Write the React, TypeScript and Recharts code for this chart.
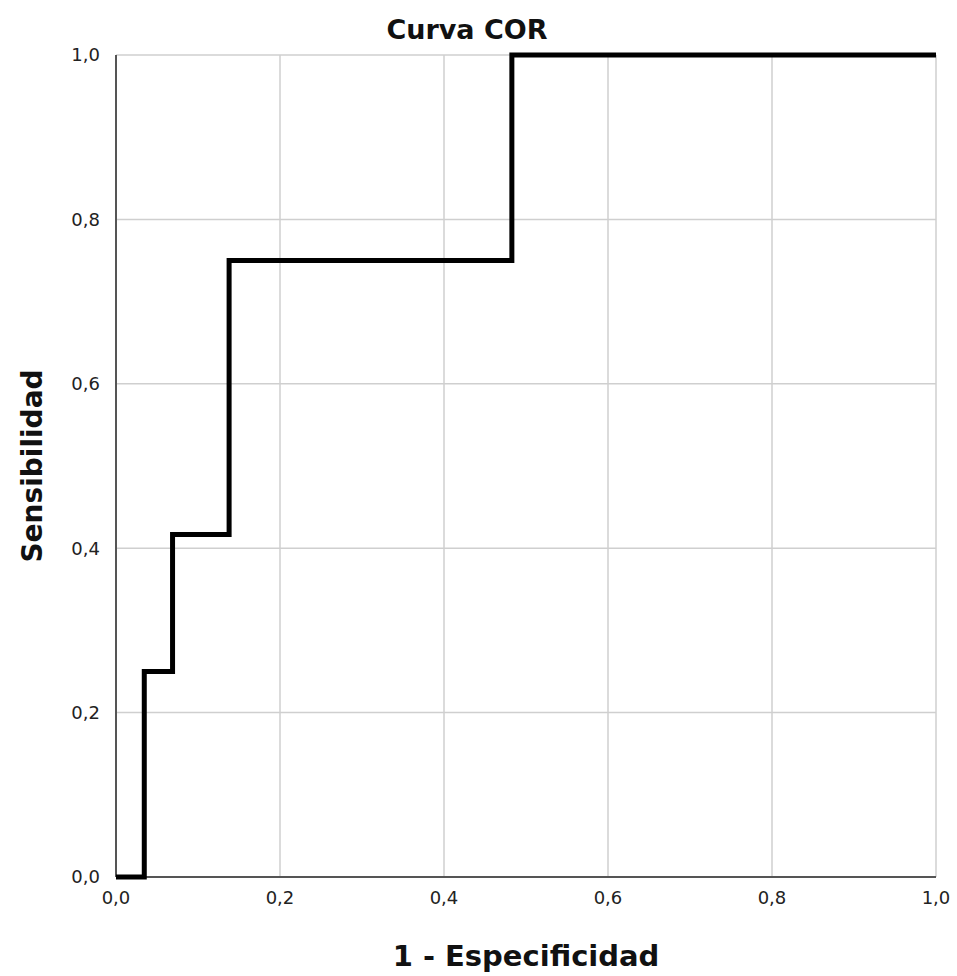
import { LineChart, Line, XAxis, YAxis, CartesianGrid, ReferenceLine } from "recharts";

// ROC points (1 - especificidad, sensibilidad)
const fpr = [0, 1 / 29, 2 / 29, 4 / 29, 14 / 29, 1];
const tpr = [0, 3 / 12, 5 / 12, 9 / 12, 1, 1];
const ticks = [0, 0.2, 0.4, 0.6, 0.8, 1];

const data = fpr.map((x, i) => ({ x, y: tpr[i] }));

const fmt = (v: number) => v.toFixed(1).replace(".", ",");
const font = "'DejaVu Sans', sans-serif";

export default function App() {
  return (
    <div style={{ position: "absolute", left: 0, top: 0, width: 957, height: 976, background: "#fff" }}>
      <LineChart width={957} height={976} data={data} margin={{ top: 55, right: 21, bottom: 59, left: 0 }}>
        <CartesianGrid stroke="#cfcfcf" strokeWidth={1.5} horizontalValues={ticks} verticalValues={ticks} />
        <XAxis
          type="number"
          dataKey="x"
          domain={[0, 1]}
          ticks={ticks}
          tickFormatter={fmt}
          height={40}
          tickLine={false}
          axisLine={false}
          tickMargin={8}
          tick={{ fill: "#222", fontSize: 18, fontFamily: font }}
        />
        <YAxis
          type="number"
          domain={[0, 1]}
          ticks={ticks}
          tickFormatter={fmt}
          width={116}
          tickLine={false}
          axisLine={false}
          tickMargin={10}
          tick={{ fill: "#222", fontSize: 18, fontFamily: font }}
        />
        <ReferenceLine y={0} stroke="#555" strokeWidth={2} />
        <ReferenceLine x={0} stroke="#555" strokeWidth={2} />
        <Line
          type="stepAfter"
          dataKey="y"
          stroke="#000"
          strokeWidth={5}
          dot={false}
          isAnimationActive={false}
        />
        <text x={467} y={39} textAnchor="middle" fontFamily={font} fontWeight="bold" fontSize={27} fill="#111">
          Curva COR
        </text>
        <text
          x={42}
          y={466}
          textAnchor="middle"
          fontFamily={font}
          fontWeight="bold"
          fontSize={28}
          fill="#111"
          transform="rotate(-90 42 466)"
        >
          Sensibilidad
        </text>
        <text
          x={526}
          y={966}
          textAnchor="middle"
          fontFamily={font}
          fontWeight="bold"
          fontSize={29}
          fill="#111"
        >
          1 - Especificidad
        </text>
      </LineChart>
    </div>
  );
}
